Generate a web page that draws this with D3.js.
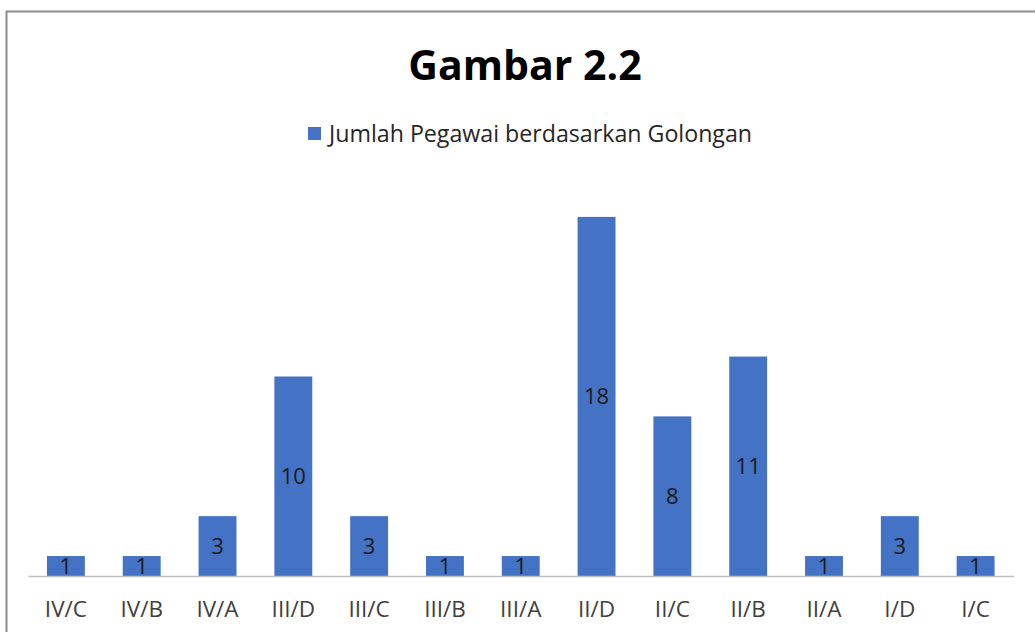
<!DOCTYPE html>
<html lang="id">
<head>
<meta charset="UTF-8">
<title>Gambar 2.2</title>
<script src="https://cdnjs.cloudflare.com/ajax/libs/d3/7.8.5/d3.min.js"></script>
<style>
  body { margin: 0; background: #fff; }
  text { font-family: "Open Sans", Lato, sans-serif; }
</style>
</head>
<body>
<script>
// data
var golongan = ["IV/C", "IV/B", "IV/A", "III/D", "III/C", "III/B", "III/A", "II/D", "II/C", "II/B", "II/A", "I/D", "I/C"];
var jumlah = [1, 1, 3, 10, 3, 1, 1, 18, 8, 11, 1, 3, 1];
var seriesName = "Jumlah Pegawai berdasarkan Golongan";
var chartTitle = "Gambar 2.2";

var W = 1035, H = 632;
var barColor = "#4472c4";

var svg = d3.select("body").append("svg")
    .attr("width", W)
    .attr("height", H);

// outer frame (runs off the right and bottom edge)
svg.append("rect")
    .attr("x", 6.5).attr("y", 11.5)
    .attr("width", 1040).attr("height", 640)
    .attr("fill", "#fff")
    .attr("stroke", "#8c8c8c")
    .attr("stroke-width", 2);

var x = d3.scaleBand()
    .domain(golongan)
    .range([28, 1013.5])
    .paddingInner(0.5)
    .paddingOuter(0.25);

var y = d3.scaleLinear()
    .domain([0, 20])
    .range([576, 177]);

// title
svg.append("text")
    .attr("x", 525).attr("y", 80)
    .attr("text-anchor", "middle")
    .style("font-size", "41px")
    .style("font-weight", "bold")
    .attr("fill", "#000")
    .text(chartTitle);

// legend
svg.append("rect")
    .attr("x", 308).attr("y", 127)
    .attr("width", 13).attr("height", 13)
    .attr("fill", barColor);
svg.append("text")
    .attr("x", 329).attr("y", 142)
    .style("font-size", "23.2px")
    .attr("fill", "#262626")
    .text(seriesName);

// bars
svg.selectAll("rect.bar")
    .data(jumlah)
    .enter()
    .append("rect")
    .attr("class", "bar")
    .attr("x", function(d, i) { return x(golongan[i]); })
    .attr("y", function(d) { return y(d); })
    .attr("width", x.bandwidth())
    .attr("height", function(d) { return y(0) - y(d); })
    .attr("fill", barColor);

// value labels
svg.selectAll("text.val")
    .data(jumlah)
    .enter()
    .append("text")
    .attr("class", "val")
    .attr("x", function(d, i) { return x(golongan[i]) + x.bandwidth() / 2; })
    .attr("y", function(d) { return (y(d) + y(0)) / 2; })
    .attr("dy", "0.36em")
    .attr("text-anchor", "middle")
    .style("font-size", "22px")
    .attr("fill", "#1a1a1a")
    .text(function(d) { return d; });

// x axis
var xAxis = svg.append("g")
    .attr("transform", "translate(0,576)")
    .call(d3.axisBottom(x).tickSize(0).tickPadding(25));
xAxis.select(".domain").attr("stroke", "#bfbfbf").attr("stroke-width", 1.3);
xAxis.selectAll("text")
    .style("font-size", "22.5px")
    .attr("fill", "#404040");
</script>
</body>
</html>
